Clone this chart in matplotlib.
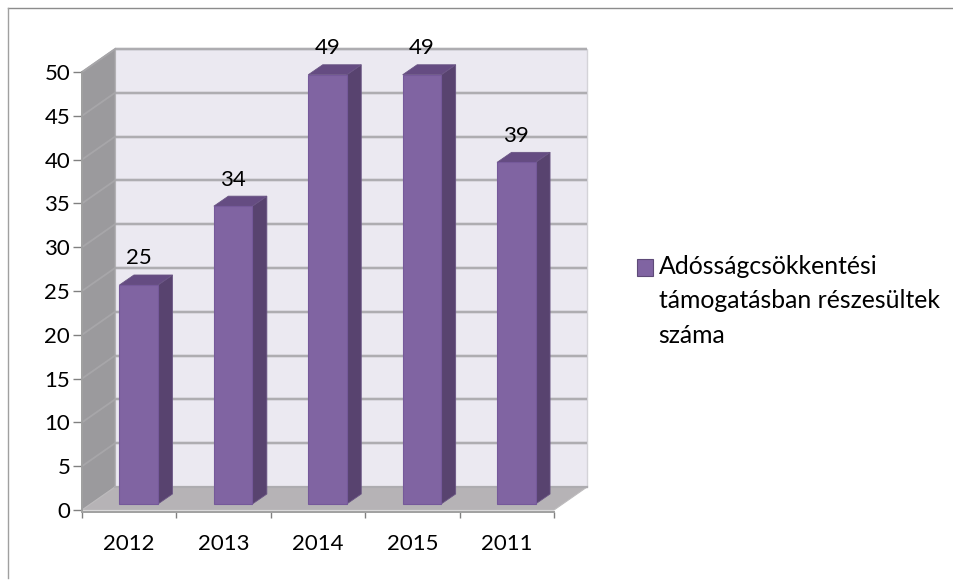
import matplotlib
matplotlib.use("Agg")
import matplotlib.pyplot as plt
from matplotlib.legend_handler import HandlerPatch
from matplotlib.lines import Line2D
from matplotlib.patches import Patch, Polygon, Rectangle
from matplotlib.transforms import Affine2D

categories = ["2012", "2013", "2014", "2015", "2011"]
values = [25, 34, 49, 49, 39]
y_ticks = [0, 5, 10, 15, 20, 25, 30, 35, 40, 45, 50]
legend_label = "Adósságcsökkentési\ntámogatásban részesültek\nszáma"

FONT = "Lato"
FS = 16
FS_LEG = 17.8
plt.rcParams["font.family"] = [FONT, "DejaVu Sans"]

W, H = 954, 580
fig = plt.figure(figsize=(W / 100, H / 100), dpi=100, facecolor="white")
ax = fig.add_axes([82 / W, (H - 510) / H, 472 / W, 438 / H], facecolor="none")
ax.set_xlim(0, len(categories))
ax.set_ylim(0, 50)

ux = 472 / len(categories)
uy = 438 / 50
BACK_DX, BACK_DY = 33, 23
back = ax.transData + Affine2D().translate(BACK_DX, BACK_DY)
bar_base = ax.transData + Affine2D().translate(9.5, 6)

GRID = "#ADACB0"
WALL = "#EBE9F1"
SIDEWALL = "#9B9A9D"
FLOOR = "#B6B3B6"
BAR_FRONT = "#8064A2"
BAR_SIDE = "#58436F"
BAR_TOP = "#654C82"

n = len(categories)
bx, by = BACK_DX / ux, BACK_DY / uy
ax.add_patch(Polygon([(0, 0), (n, 0), (n, 50), (0, 50)], closed=True, transform=back,
                     facecolor=WALL, edgecolor="#D4D3D8", lw=1, clip_on=False, zorder=1))
ax.add_patch(Polygon([(0, 0), (bx, by), (bx, 50 + by), (0, 50)], closed=True,
                     facecolor=SIDEWALL, edgecolor="#A5A4A7", lw=1, clip_on=False, zorder=1))
ax.add_patch(Polygon([(0, 0), (n, 0), (n + bx, by), (bx, by)], closed=True,
                     facecolor=FLOOR, edgecolor="#BDBBBD", lw=0.8, clip_on=False, zorder=1.1))

for v in y_ticks[1:]:
    ax.plot([0, n], [v, v], transform=back, color=GRID, lw=2.6, alpha=0.35, clip_on=False, zorder=1.2,
            solid_capstyle="butt")
    ax.plot([0, n], [v, v], transform=back, color=GRID, lw=1.4, clip_on=False, zorder=1.3,
            solid_capstyle="butt")
    ax.plot([0, bx], [v, v + by], color="#A7A6A9", lw=1.3, clip_on=False, zorder=1.3)
ax.plot([0, n], [0, 0], transform=back, color=GRID, lw=1.6, clip_on=False, zorder=1.3)

xs = [i + 0.5 for i in range(n)]
bw = 38.5 / ux
ddx, ddy = 14.5 / ux, 10 / uy
for x, v in zip(xs, values):
    r = x + bw / 2
    l = x - bw / 2
    ax.add_patch(Polygon([(r, 0), (r + ddx, ddy), (r + ddx, v + ddy), (r, v)], closed=True,
                         transform=bar_base, facecolor=BAR_SIDE, edgecolor="#6A5584", lw=0.6,
                         clip_on=False, zorder=2))
    ax.add_patch(Polygon([(l, v), (r, v), (r + ddx, v + ddy), (l + ddx, v + ddy)], closed=True,
                         transform=bar_base, facecolor=BAR_TOP, edgecolor="#6A5584", lw=0.6,
                         clip_on=False, zorder=2))
ax.bar(xs, values, bw, transform=bar_base, color=BAR_FRONT, edgecolor="#75599A", lw=0.8,
       clip_on=False, zorder=2.2)

for x, v in zip(xs, values):
    ax.annotate(str(v), xy=(x, v), xycoords=bar_base, xytext=(0, 26.5 * 0.72),
                textcoords="offset points", ha="center", va="center", fontsize=FS,
                color="black", zorder=4, annotation_clip=False)

for s in ("top", "right"):
    ax.spines[s].set_visible(False)
for s in ("left", "bottom"):
    ax.spines[s].set_color("#A0A0A0")
    ax.spines[s].set_linewidth(1.4)
ax.spines["bottom"].set_position(("outward", 1.5))
ax.set_yticks(y_ticks)
ax.set_xticks(range(n + 1))
ax.set_xticklabels([])
ax.set_xticks(xs, categories, minor=True)
ax.tick_params(axis="y", length=6.5, width=1, color="#808080", labelsize=FS, pad=2)
ax.tick_params(axis="x", which="major", length=4.5, width=1, color="#808080")
ax.tick_params(axis="x", which="minor", length=0, labelsize=FS, pad=15.5)


def first_line_swatch(legend, orig_handle, xdescent, ydescent, width, height, fontsize):
    return Rectangle((-xdescent, -ydescent + 34 * 0.72), width, height)


leg = ax.legend(handles=[Patch(facecolor=BAR_FRONT, edgecolor="#5E4A78", lw=0.8)],
                labels=[legend_label], loc="upper left",
                bbox_to_anchor=(637 / W, (H - 255) / H), bbox_transform=fig.transFigure,
                frameon=False, fontsize=FS_LEG, handlelength=0.65, handleheight=0.65,
                handletextpad=0.22, borderaxespad=0, borderpad=0, labelspacing=0,
                handler_map={Patch: HandlerPatch(patch_func=first_line_swatch)})
for t in leg.get_texts():
    t.set_linespacing(1.6)

fig.add_artist(Line2D([8 / W, 1], [(H - 8) / H] * 2, color="#8C8C8C", lw=1))
fig.add_artist(Line2D([8 / W, 8 / W], [(H - 8) / H, 2 / H], color="#A0A0A0", lw=1))

fig.savefig("out.png", dpi=100)
